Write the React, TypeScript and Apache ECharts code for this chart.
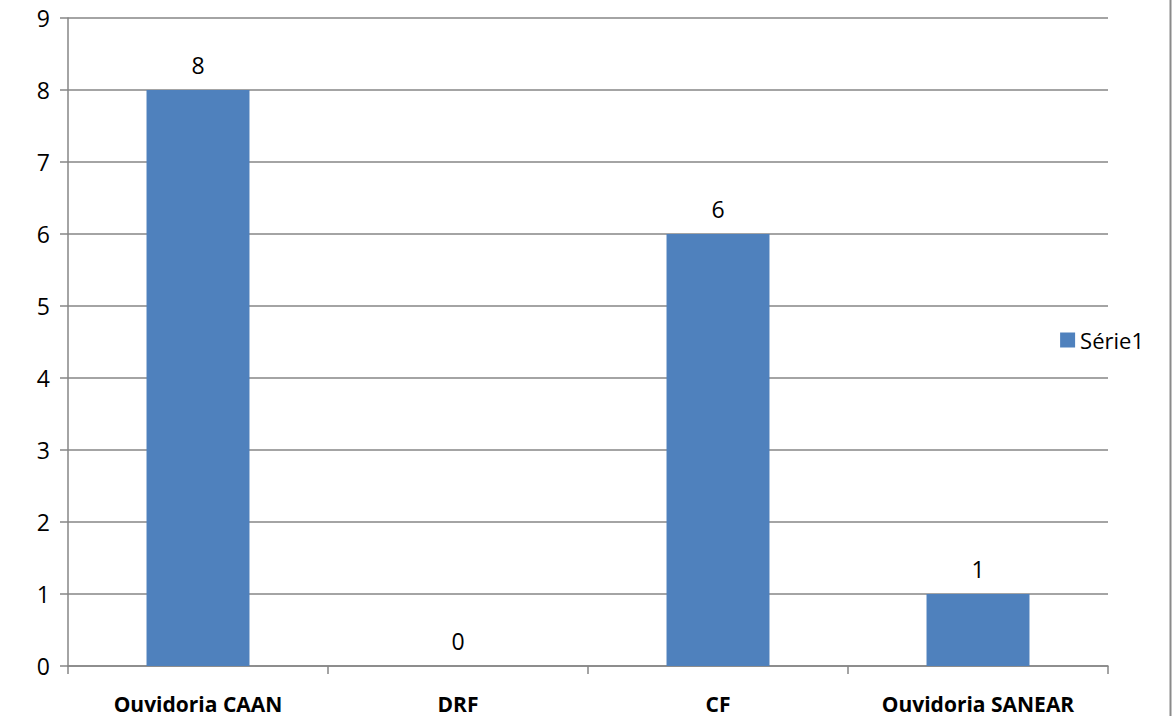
import React, { useEffect, useRef } from "react";
import * as echarts from "echarts";

const categories = ["Ouvidoria CAAN", "DRF", "CF", "Ouvidoria SANEAR"];
const values = [8, 0, 6, 1];
const seriesName = "Série1";
const yTicks = [0, 1, 2, 3, 4, 5, 6, 7, 8, 9];

export default function App() {
  const ref = useRef<HTMLDivElement>(null);
  useEffect(() => {
    if (!ref.current) return;
    const chart = echarts.init(ref.current, undefined, { renderer: "svg" });
    const font = "'Open Sans', 'Noto Sans', sans-serif";
    chart.setOption({
      animation: false,
      backgroundColor: "#ffffff",
      textStyle: { fontFamily: font },
      grid: { left: 68, right: 68, top: 18, bottom: 58, containLabel: false },
      legend: {
        show: true,
        right: 27,
        top: 324,
        orient: "vertical",
        itemWidth: 15,
        itemHeight: 15,
        itemGap: 4,
        icon: "rect",
        textStyle: { fontSize: 22, color: "#000", fontFamily: font },
        data: [seriesName],
      },
      xAxis: {
        type: "category",
        data: categories,
        axisLine: { show: true, lineStyle: { color: "#868686", width: 1.5 } },
        axisTick: { show: true, alignWithLabel: false, length: 8, lineStyle: { color: "#868686", width: 1.5 } },
        axisLabel: { margin: 27, fontSize: 21, fontWeight: "bold", color: "#000", fontFamily: font },
        splitLine: { show: false },
      },
      yAxis: {
        type: "value",
        min: 0,
        max: 9,
        interval: 1,
        axisLine: { show: true, lineStyle: { color: "#868686", width: 1.5 } },
        axisTick: { show: true, length: 8, lineStyle: { color: "#868686", width: 1.5 } },
        axisLabel: {
          margin: 18,
          fontSize: 23,
          color: "#000",
          fontFamily: font,
          formatter: (v: number) => (yTicks.includes(v) ? String(v) : ""),
        },
        splitLine: { show: true, lineStyle: { color: "#868686", width: 1.5 } },
      },
      series: [
        {
          name: seriesName,
          type: "bar",
          data: values,
          barWidth: "39.6%",
          itemStyle: { color: "#4F81BD" },
          label: {
            show: true,
            position: "top",
            distance: 14,
            fontSize: 23,
            color: "#000",
            fontFamily: font,
          },
        },
      ],
      graphic: [
        {
          type: "line",
          shape: { x1: 1170.5, y1: 0, x2: 1170.5, y2: 716 },
          style: { stroke: "#8a8a8a", lineWidth: 2 },
        },
      ],
    });
    return () => chart.dispose();
  }, []);
  return (
    <div
      ref={ref}
      style={{ position: "fixed", left: 0, top: 0, width: 1176, height: 724 }}
    />
  );
}
